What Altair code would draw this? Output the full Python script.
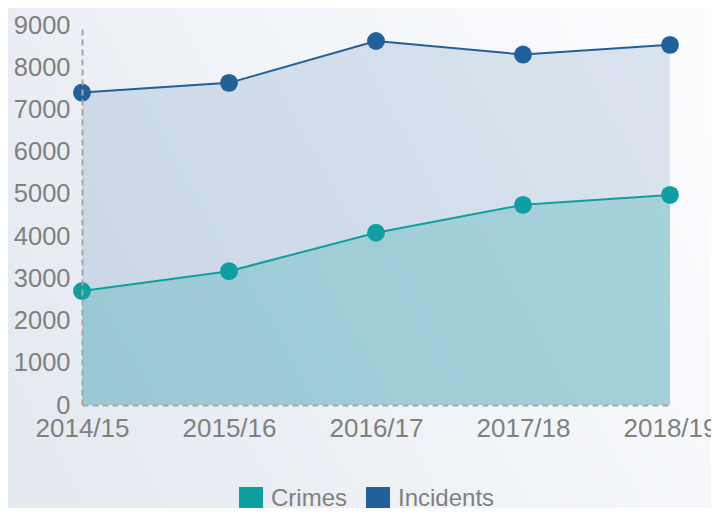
import altair as alt
import pandas as pd

years = ["2014/15", "2015/16", "2016/17", "2017/18", "2018/19"]
crimes = [2700, 3170, 4080, 4740, 4975]
incidents = [7400, 7630, 8620, 8300, 8530]
series_names = ["Crimes", "Incidents"]
series_colors = ["#0f9fa0", "#22609a"]
y_ticks = [0, 1000, 2000, 3000, 4000, 5000, 6000, 7000, 8000, 9000]

rows = []
for yr, c, i in zip(years, crimes, incidents):
    rows.append({"year": yr, "series": "Crimes", "value": c})
    rows.append({"year": yr, "series": "Incidents", "value": i})
df = pd.DataFrame(rows)

W, H = 588, 380
FONT = "Liberation Sans"
GRAY = "#808080"

color = alt.Color(
    "series:N",
    scale=alt.Scale(domain=series_names, range=series_colors),
    legend=alt.Legend(
        title=None, orient="none", direction="horizontal",
        legendX=157, legendY=462,
        symbolType="square", symbolSize=576, symbolStrokeWidth=0,
        symbolOpacity=1, labelFontSize=24, labelColor=GRAY, labelFont=FONT,
        labelOffset=8, columnPadding=19, padding=0,
    ),
)

x = alt.X(
    "year:N", sort=years,
    scale=alt.Scale(type="point", padding=0),
    axis=alt.Axis(
        title=None, labelAngle=0, ticks=False, grid=False, zindex=1,
        labelFontSize=26, labelColor=GRAY, labelFont=FONT, labelPadding=10,
        domainColor="#a6a6a6", domainDash=[6, 4], domainWidth=2,
    ),
)
y = alt.Y(
    "value:Q",
    scale=alt.Scale(domain=[0, 9000], nice=False),
    axis=alt.Axis(
        title=None, values=y_ticks, format="d", ticks=False, grid=False, zindex=1,
        labelFontSize=25.5, labelColor=GRAY, labelFont=FONT, labelPadding=12,
        domainColor="#a6a6a6", domainDash=[6, 4], domainWidth=2,
    ),
    stack=None,
)

bg = alt.Chart(pd.DataFrame({"a": [0]})).mark_rect(
    color=alt.Gradient(
        gradient="linear", x1=0, y1=0.7, x2=1, y2=0.3,
        stops=[alt.GradientStop(offset=0, color="#e5eaf1"),
               alt.GradientStop(offset=1, color="#fbfcfe")],
    )
).encode(
    x=alt.value(-80), x2=alt.value(W + 50),
    y=alt.value(-30), y2=alt.value(H + 115),
)

base = alt.Chart(df)
area_inc = base.transform_filter(alt.datum.series == "Incidents").mark_area(
    opacity=0.15).encode(x=x, y=y, color=color)
area_cri = base.transform_filter(alt.datum.series == "Crimes").mark_area(
    opacity=0.25).encode(x=x, y=y, color=color)
lines = base.mark_line(strokeWidth=2).encode(x=x, y=y, color=color, detail="series:N")
pts = base.mark_circle(size=320, opacity=1).encode(x=x, y=y, color=color)

chart = alt.layer(bg, area_inc, area_cri, lines, pts).properties(
    width=W, height=H,
    autosize=alt.AutoSizeParams(type="none"),
    padding={"left": 74, "top": 17, "right": 41, "bottom": 103},
).configure_view(stroke=None).configure(background="#eef2f6")

chart.save("out.html", embed_options={"renderer": "svg", "actions": False})
